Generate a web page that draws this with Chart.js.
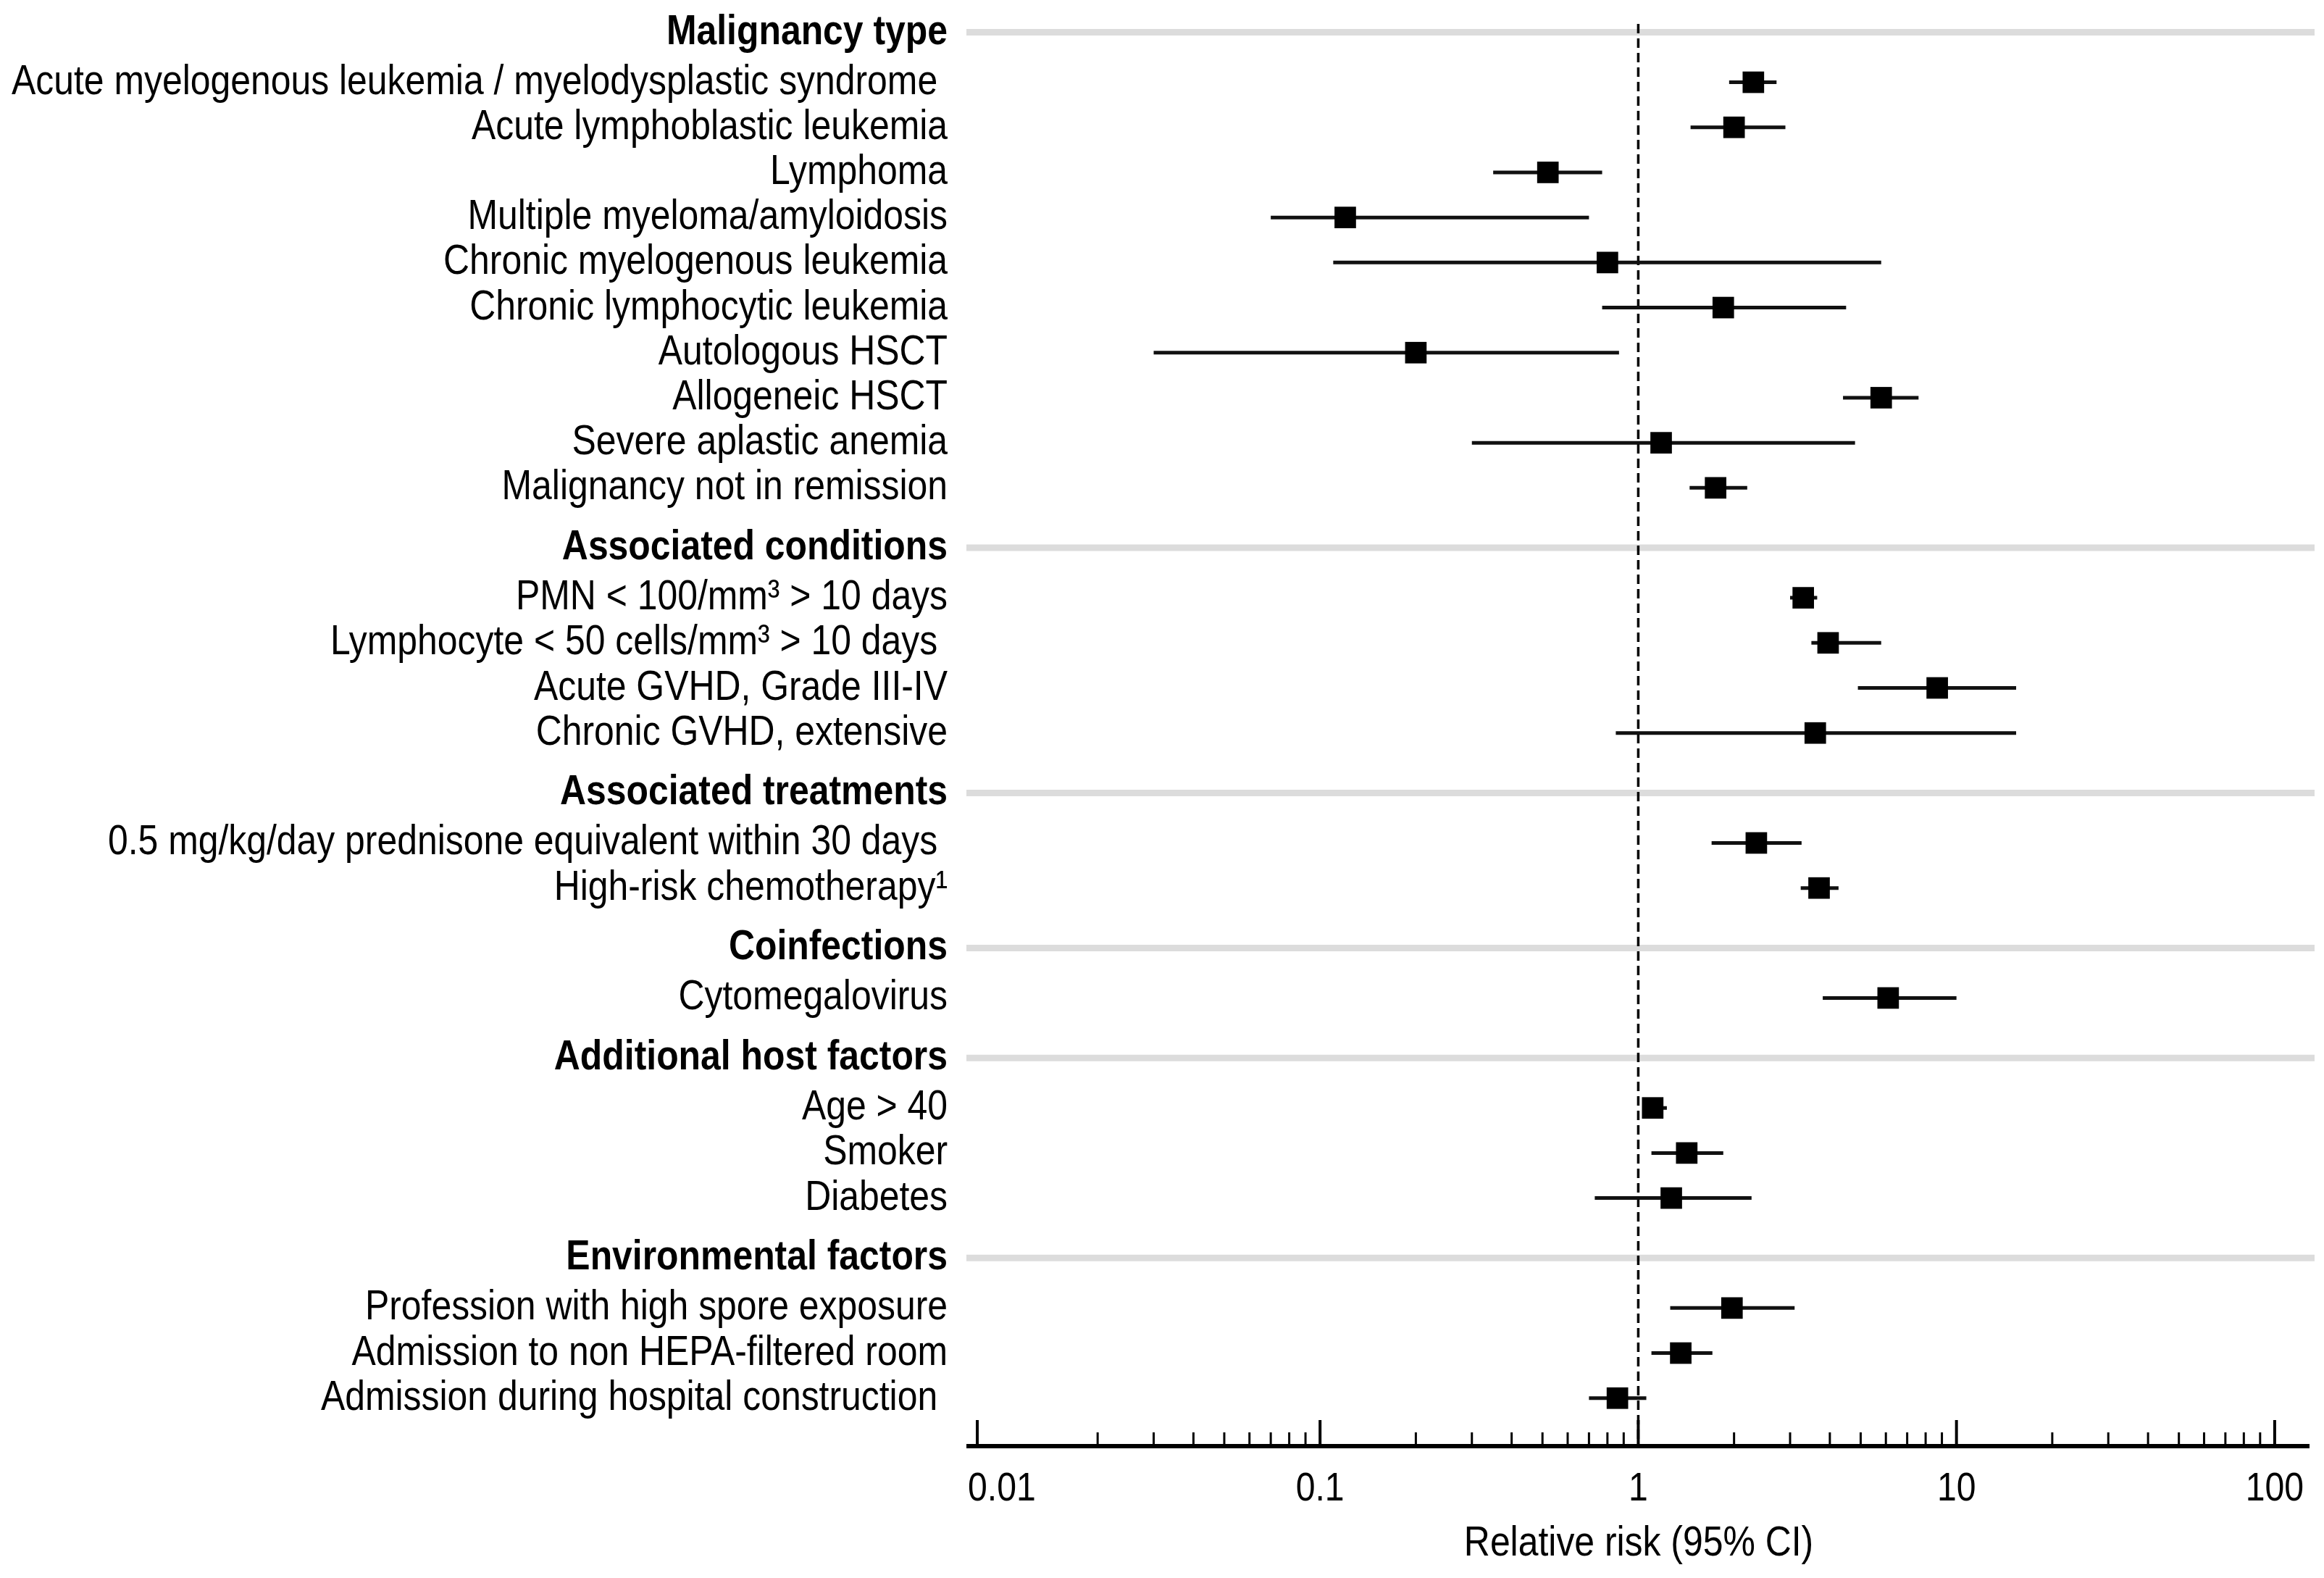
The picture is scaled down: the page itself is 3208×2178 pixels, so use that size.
<!DOCTYPE html>
<html>
<head>
<meta charset="utf-8">
<script src="https://cdn.jsdelivr.net/npm/chart.js@4.4.1/dist/chart.umd.min.js"></script>
<style>
  html, body { margin: 0; padding: 0; background: #fff; }
  #wrap { width: 3208px; height: 2178px; }
</style>
</head>
<body>
<div id="wrap"><canvas id="forest"></canvas></div>
<script>
const sections = [
    "Malignancy type",
    "Associated conditions",
    "Associated treatments",
    "Coinfections",
    "Additional host factors",
    "Environmental factors"
];
const factors = [
    "Acute myelogenous leukemia / myelodysplastic syndrome ",
    "Acute lymphoblastic leukemia",
    "Lymphoma",
    "Multiple myeloma/amyloidosis",
    "Chronic myelogenous leukemia",
    "Chronic lymphocytic leukemia",
    "Autologous HSCT",
    "Allogeneic HSCT",
    "Severe aplastic anemia",
    "Malignancy not in remission",
    "PMN < 100/mm\u00b3 > 10 days",
    "Lymphocyte < 50 cells/mm\u00b3 > 10 days ",
    "Acute GVHD, Grade III-IV",
    "Chronic GVHD, extensive",
    "0.5 mg/kg/day prednisone equivalent within 30 days ",
    "High-risk chemotherapy\u00b9",
    "Cytomegalovirus",
    "Age > 40",
    "Smoker",
    "Diabetes",
    "Profession with high spore exposure",
    "Admission to non HEPA-filtered room",
    "Admission during hospital construction "
];
const factorSection = [0, 0, 0, 0, 0, 0, 0, 0, 0, 0, 1, 1, 1, 1, 2, 2, 3, 4, 4, 4, 5, 5, 5];
const relRisk = [2.3, 2.0, 0.52, 0.12, 0.80, 1.85, 0.20, 5.8, 1.18, 1.75, 3.3, 3.95, 8.7, 3.6, 2.35, 3.7, 6.1, 1.11, 1.42, 1.27, 1.97, 1.36, 0.86];
const ciLow = [1.93, 1.46, 0.35, 0.07, 0.11, 0.77, 0.03, 4.4, 0.30, 1.45, 3.0, 3.5, 4.9, 0.85, 1.7, 3.24, 3.8, 1.04, 1.10, 0.73, 1.26, 1.10, 0.70];
const ciHigh = [2.72, 2.9, 0.77, 0.70, 5.8, 4.5, 0.87, 7.6, 4.8, 2.2, 3.65, 5.8, 15.4, 15.4, 3.26, 4.26, 10.0, 1.23, 1.85, 2.27, 3.1, 1.71, 1.06];
const xTickValues = [0.01, 0.1, 1, 10, 100];

(function() {

    const FONT = "'Liberation Sans', Arial, sans-serif";
    const SQUEEZE = 0.86; // the original figure uses a narrow face

    // lay out the rows: section headers get a bit of extra room around them
    let rows = [];
    let factorPos = [];
    let pos = -1;
    let prevHeader = false;
    function addRow(label, header) {
        if (pos < 0) pos = 0;
        else pos += 1 + (header ? 0.33 : 0) + (prevHeader ? 0.11 : 0);
        rows.push({label: label, header: header, pos: pos});
        prevHeader = header;
        return pos;
    }
    sections.forEach(function(name, s) {
        addRow(name, true);
        factors.forEach(function(f, i) {
            if (factorSection[i] === s) factorPos[i] = addRow(f, false);
        });
    });

    let points = relRisk.map((v, i) => ({x: v, y: factorPos[i]}));
    let ciSegments = [];
    factors.forEach(function(f, i) {
        ciSegments.push({x: ciLow[i], y: factorPos[i]});
        ciSegments.push({x: ciHigh[i], y: factorPos[i]});
        ciSegments.push({x: null, y: null});
    });

    const decor = {
        id: 'decor',
        beforeDatasetsDraw(chart) {
            const c = chart.ctx, area = chart.chartArea;
            const xs = chart.scales.x, ys = chart.scales.y;
            c.save();
            // grey section rules
            c.strokeStyle = '#dcdcdc';
            c.lineWidth = 9;
            rows.forEach(function(r) {
                if (!r.header) return;
                let y = ys.getPixelForValue(r.pos);
                c.beginPath();
                c.moveTo(area.left - 3, y);
                c.lineTo(area.right + 8, y);
                c.stroke();
            });
            // reference line at RR = 1
            let x1 = xs.getPixelForValue(1);
            c.strokeStyle = '#000';
            c.lineWidth = 3.5;
            c.setLineDash([13, 7]);
            c.beginPath();
            c.moveTo(x1, area.top);
            c.lineTo(x1, area.bottom);
            c.stroke();
            c.restore();
        },
        afterDraw(chart) {
            const c = chart.ctx, area = chart.chartArea;
            const xs = chart.scales.x;
            const base = area.bottom;
            c.save();
            c.strokeStyle = '#000';
            // major ticks: one near the axis start, then each decade
            c.lineWidth = 4;
            let majors = [area.left + 12].concat(xTickValues.slice(1).map(v => xs.getPixelForValue(v)));
            majors.forEach(function(x) {
                c.beginPath();
                c.moveTo(x, base);
                c.lineTo(x, base - 36);
                c.stroke();
            });
            // minor ticks 2..9 within each decade
            c.lineWidth = 3;
            for (let d = -2; d < 2; d++) {
                for (let m = 2; m <= 9; m++) {
                    let x = xs.getPixelForValue(m * Math.pow(10, d));
                    c.beginPath();
                    c.moveTo(x, base);
                    c.lineTo(x, base - 19);
                    c.stroke();
                }
            }
            c.restore();
        }
    };

    let canvas = document.getElementById("forest");
    let ctx = canvas.getContext("2d");
    // narrow every label horizontally around its anchor point
    ctx.fillText = function(text, x, y, maxWidth) {
        this.save();
        this.translate(x, y);
        this.scale(SQUEEZE, 1);
        if (maxWidth === undefined) CanvasRenderingContext2D.prototype.fillText.call(this, text, 0, 0);
        else CanvasRenderingContext2D.prototype.fillText.call(this, text, 0, 0, maxWidth / SQUEEZE);
        this.restore();
    };

    new Chart(ctx, {
        type: 'scatter',
        data: {
            datasets: [{
                data: points,
                pointStyle: 'rect',
                pointRadius: 21,
                pointHoverRadius: 21,
                pointBackgroundColor: '#000',
                pointBorderColor: '#000',
                pointBorderWidth: 0
            }, {
                data: ciSegments,
                showLine: true,
                spanGaps: false,
                borderColor: '#111',
                borderWidth: 5,
                pointRadius: 0,
                pointHoverRadius: 0
            }]
        },
        options: {
            responsive: true,
            maintainAspectRatio: false,
            animation: false,
            layout: {padding: {left: 10, right: 18, top: 33, bottom: 0}},
            plugins: {legend: {display: false}, tooltip: {enabled: false}},
            scales: {
                x: {
                    type: 'logarithmic',
                    min: 0.00786,
                    max: 128,
                    grid: {display: false, drawTicks: false},
                    border: {display: true, color: '#000', width: 6},
                    afterBuildTicks: function(scale) {
                        scale.ticks = xTickValues.map(v => ({value: v}));
                    },
                    afterFit: function(scale) {
                        scale.height = 182;
                        scale.paddingLeft = 0;
                        scale.paddingRight = 0;
                    },
                    ticks: {
                        autoSkip: false,
                        maxRotation: 0,
                        padding: 26,
                        color: '#000',
                        font: {family: FONT, size: 56},
                        callback: v => String(v)
                    },
                    title: {
                        display: true,
                        text: 'Relative risk (95% CI)',
                        color: '#000',
                        font: {family: FONT, size: 58},
                        padding: {top: 0, bottom: 12}
                    }
                },
                y: {
                    type: 'linear',
                    reverse: true,
                    min: -0.185,
                    max: pos + 1.065,
                    grid: {display: false},
                    border: {display: false},
                    afterBuildTicks: function(scale) {
                        scale.ticks = rows.map(r => ({value: r.pos}));
                    },
                    afterFit: function(scale) {
                        scale.width = 1327;
                        scale.paddingTop = 0;
                        scale.paddingBottom = 0;
                    },
                    ticks: {
                        autoSkip: false,
                        padding: 21,
                        color: '#000',
                        font: function(c) {
                            let r = rows[c.index];
                            return {family: FONT, size: 58, weight: (r && r.header) ? 'bold' : 'normal'};
                        },
                        callback: function(value, index) {
                            return rows[index] ? rows[index].label : '';
                        }
                    }
                }
            }
        },
        plugins: [decor]
    });
})();
</script>
</body>
</html>
